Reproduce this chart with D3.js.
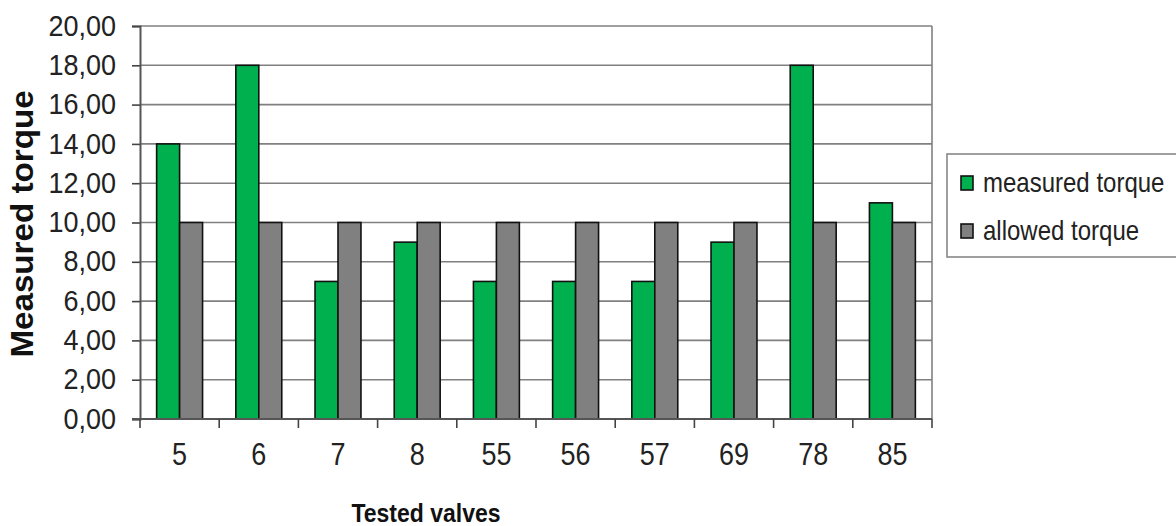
<!DOCTYPE html>
<meta charset="utf-8">
<head>
  <style>
    body { margin: 0; background: #fff; }
    text { font-family: "Liberation Sans", Arial, sans-serif; }
  </style>
</head>
<body>
<div id="chart"></div>
<script src="https://d3js.org/d3.v7.min.js"></script>
<script>

// data
var valves = ["5", "6", "7", "8", "55", "56", "57", "69", "78", "85"];
var measuredTorque = [14, 18, 7, 9, 7, 7, 7, 9, 18, 11];
var allowedTorque = [10, 10, 10, 10, 10, 10, 10, 10, 10, 10];
var seriesNames = ["measured torque", "allowed torque"];
var seriesColors = ["#00b04f", "#808080"];
var yTicks = [0, 2, 4, 6, 8, 10, 12, 14, 16, 18, 20];

var W = 1176, H = 526;
var margin = {top: 26, right: 244, bottom: 107, left: 140},
    width = W - margin.left - margin.right,
    height = H - margin.top - margin.bottom;

// the source picture is a little stretched vertically
var stretch = 1.15;

var svg = d3.select("#chart").append("svg")
    .attr("width", W).attr("height", H);
var g = svg.append("g")
    .attr("transform", "translate(" + margin.left + "," + margin.top + ")");

var x0 = d3.scaleBand().domain(valves).range([0, width]).paddingInner(0.42).paddingOuter(0.21);
var xc = d3.scaleBand().domain(valves).range([0, width]);
var x1 = d3.scaleBand().domain(seriesNames).range([0, x0.bandwidth()]);
var y = d3.scaleLinear().domain([0, 20]).range([height, 0]);

// gridlines
g.selectAll(".grid").data(yTicks.filter(function(d){ return d > 0; }))
  .enter().append("line")
    .attr("x1", 0).attr("x2", width)
    .attr("y1", function(d){ return y(d); }).attr("y2", function(d){ return y(d); })
    .attr("stroke", "#808080").attr("stroke-width", 1.6);

// right border of the plot area
g.append("line")
  .attr("x1", width).attr("x2", width).attr("y1", 0).attr("y2", height)
  .attr("stroke", "#808080").attr("stroke-width", 1.6);

// bars
var rows = valves.map(function(v, i){
  return {valve: v, vals: [measuredTorque[i], allowedTorque[i]]};
});
var groups = g.selectAll(".grp").data(rows).enter().append("g")
  .attr("transform", function(d){ return "translate(" + x0(d.valve) + ",0)"; });
groups.selectAll("rect").data(function(d){
    return d.vals.map(function(v, k){ return {name: seriesNames[k], value: v, k: k}; });
  })
  .enter().append("rect")
    .attr("x", function(d){ return x1(d.name); })
    .attr("width", x1.bandwidth())
    .attr("y", function(d){ return y(d.value); })
    .attr("height", function(d){ return height - y(d.value); })
    .attr("fill", function(d){ return seriesColors[d.k]; })
    .attr("stroke", "#111").attr("stroke-width", 1.6);

// y axis
var yAxis = g.append("g")
  .call(d3.axisLeft(y).tickValues(yTicks).tickSize(8).tickPadding(16)
    .tickFormat(function(d){ return d3.format(".2f")(d).replace(".", ","); }));
yAxis.select(".domain").attr("stroke", "#555").attr("stroke-width", 2);
yAxis.selectAll(".tick line").attr("stroke", "#444").attr("stroke-width", 1.6);
yAxis.selectAll("text").style("font-size", "27px").attr("fill", "#222")
  .attr("font-family", "Liberation Sans, Arial, sans-serif")
  .attr("transform", "scale(1,1.06)");

// x axis (ticks at category boundaries)
var xAxis = g.append("g").attr("transform", "translate(0," + height + ")");
xAxis.append("line").attr("x1", -8).attr("x2", width).attr("y1", 0).attr("y2", 0)
  .attr("stroke", "#555").attr("stroke-width", 2);
xAxis.selectAll(".xt").data(valves.concat(["end"])).enter().append("line")
  .attr("x1", function(d, i){ return i < valves.length ? xc(d) : width; })
  .attr("x2", function(d, i){ return i < valves.length ? xc(d) : width; })
  .attr("y1", 0).attr("y2", 9)
  .attr("stroke", "#444").attr("stroke-width", 1.6);
xAxis.selectAll(".xl").data(valves).enter().append("text")
  .attr("transform", function(d){
    return "translate(" + (xc(d) + xc.bandwidth() / 2) + ",46) scale(1," + stretch + ")";
  })
  .attr("text-anchor", "middle")
  .style("font-size", "27px").attr("fill", "#222")
  .text(function(d){ return d; });

// axis titles
svg.append("text")
  .attr("transform", "translate(426,522) scale(1," + stretch + ")")
  .attr("text-anchor", "middle")
  .style("font-size", "23px").style("font-weight", "bold").attr("fill", "#111")
  .text("Tested valves");
svg.append("text")
  .attr("transform", "translate(33,224) rotate(-90) scale(1.07,1)")
  .attr("text-anchor", "middle")
  .style("font-size", "31px").style("font-weight", "bold").attr("fill", "#111")
  .text("Measured torque");

// legend
var lg = svg.append("g").attr("transform", "translate(947,154)");
lg.append("rect").attr("x", 0).attr("y", 0).attr("width", 240).attr("height", 103)
  .attr("fill", "#fff").attr("stroke", "#888").attr("stroke-width", 1.6);
seriesNames.forEach(function(name, k){
  var yy = 29 + k * 48;
  lg.append("rect").attr("x", 14).attr("y", yy - 7).attr("width", 12).attr("height", 14)
    .attr("fill", seriesColors[k]).attr("stroke", "#111").attr("stroke-width", 1.6);
  lg.append("text")
    .attr("transform", "translate(36," + (yy + 9) + ") scale(1," + stretch + ")")
    .style("font-size", "24px").attr("fill", "#222").text(name);
});

</script>
</body>
